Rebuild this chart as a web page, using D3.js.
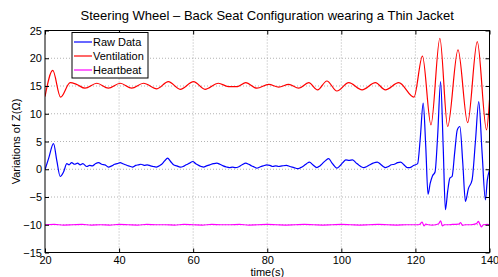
<!DOCTYPE html>
<html><head><meta charset="utf-8">
<script src="https://cdn.jsdelivr.net/npm/d3@7"></script>
<style>body{margin:0;background:#fff}svg{display:block;font-family:"Liberation Sans",Arial,sans-serif}</style>
</head><body><svg id="c" width="498" height="277"></svg>
<script>
const title = "Steering Wheel \u2013 Back Seat Configuration wearing a Thin Jacket";
const xLabel = "time(s)";
const yLabel = "Variations of Z(\u03A9)";
const xTicks = [20, 40, 60, 80, 100, 120, 140];
const yTicks = [-15, -10, -5, 0, 5, 10, 15, 20, 25];
const seriesNames = ["Raw Data", "Ventilation", "Heartbeat"];

const rawT = [20,21,22.3,23.2,24.1,25,25.9,26.5,27.2,28,28.8,29.5,30.2,31.3,32,32.8,33.6,34.5,35.3,36.2,37.1,38,38.8,39.5,40.3,41,41.8,42.6,43.6,44.5,45.2,45.9,46.8,47.6,48.5,49.2,50,50.8,51.5,52.3,53.1,53.9,54.7,55.6,56.5,57.3,58.1,59,59.9,60.7,61.5,62.2,62.8,63.6,64.5,65.5,66.4,67.2,68.1,69,69.8,70.6,71.4,72.2,73.2,74.2,75,75.8,76.5,77.2,78,78.9,79.9,80.7,81.5,82.3,83.1,84,85.2,86.1,87.2,88.2,89,89.8,90.6,91.4,92.3,93.4,94.2,95,95.8,96.6,97.4,98.1,98.8,99.6,100.4,101.2,102.1,103,103.9,104.8,105.5,106.1,106.9,107.7,108.6,109.7,110.6,111.3,111.9,112.7,113.5,114.3,115.2,116,116.9,117.8,118.5,119.3,120,120.6,121.3,122.1,122.8,123.4,124,124.6,125.3,126,126.8,127.5,128.1,128.7,129.3,129.9,130.6,131.3,132,132.8,133.5,134.3,135.3,136.2,137.1,138,138.9,139.4,140];
const rawV = [-0.1,2.0,4.6,1.5,-1.3,-0.5,1.0,0.8,1.2,0.9,1.1,0.8,1.0,0.5,0.7,0.6,1.0,1.2,0.9,0.8,0.4,0.6,0.9,1.0,1.2,1.0,0.8,0.6,0.4,0.7,0.8,0.9,0.7,0.8,0.6,0.5,0.4,0.6,0.9,1.5,2.0,1.4,0.8,0.6,0.4,0.5,0.8,1.1,1.4,1.0,0.7,0.5,0.4,0.6,0.8,1.0,1.1,0.9,0.6,0.4,0.3,0.4,0.3,0.4,0.8,1.1,0.9,0.6,0.4,0.2,0.4,0.6,0.8,0.7,0.5,0.6,0.5,0.6,0.7,0.5,0.3,0.1,0.3,0.6,1.0,1.3,0.8,0.3,0.6,1.1,1.6,1.9,1.2,0.6,0.2,0.6,1.2,1.7,1.6,1.7,1.2,0.7,0.4,0.3,0.5,0.8,1.1,1.3,0.9,0.5,0.3,0.5,0.8,0.9,1.2,1.3,0.8,0.3,0.3,0.6,0.8,1.0,5.5,11.9,4.0,-4.5,-2.5,-1.2,-0.5,6.0,15.8,4.0,-7.3,-4.0,-1.6,-1.3,3.0,7.1,7.7,1.0,-5.8,-3.5,-1.9,5.0,12.2,3.0,-5.5,-2.0,-0.1];

const ventT = [20,22.1,24.2,26.8,28.5,30.8,34,37.1,40.3,43.4,46.6,50.2,53.3,56.5,60.1,63.2,66.8,69.5,72,74.2,77.2,80.4,83.1,85.8,88.5,91.2,93.6,96.1,98.8,102,105.6,109.2,111.9,115.5,119.6,121.9,124.2,126.6,128.7,131.5,134.1,136.7,139.2,140];
const ventV = [13.1,17.8,13.0,15.6,15.3,14.6,15.5,14.6,15.5,14.6,15.5,14.5,15.8,14.4,15.8,14.4,15.5,14.9,14.9,15.6,14.6,15.3,14.8,15.3,14.6,15.6,14.3,15.9,14.1,15.6,14.3,15.6,14.3,15.6,13.0,20.4,8.0,23.6,7.7,21.5,8.4,23.0,7.1,12.5];

const heartT = [20,22.5,25,27.5,30,32.5,35,37.5,40,42.5,45,47.5,50,52.5,55,57.5,60,62.5,65,67.5,70,72.5,75,77.5,80,82.5,85,87.5,90,92.5,95,97.5,100,102.5,105,107.5,110,112.5,115,117.5,120,120.5,121.2,121.8,122.3,122.8,123.5,124.5,125.5,126.3,126.8,127.3,127.8,129,130,131.7,132.2,132.7,133.5,135,136.5,137,137.4,137.8,138.3,139.5,140];
const heartV = [-10,-9.95,-10.05,-10,-9.95,-10.05,-10,-10.05,-9.95,-10,-10.05,-9.95,-10,-10,-10.05,-9.95,-10,-10.05,-9.95,-10,-10,-9.95,-10.05,-10,-9.95,-10,-10.05,-10,-9.95,-10,-10.05,-10,-9.95,-10,-10.05,-10,-9.95,-10,-10.05,-10,-10,-10,-9.9,-9.5,-10.2,-9.9,-10,-10.05,-10,-9.8,-9.3,-10.2,-10,-10,-9.95,-9.9,-9.6,-10.1,-10,-10,-9.8,-9.4,-9.9,-10.4,-10,-9.95,-10];

const colors = ["#0000ff", "#ff0000", "#ff00ff"];

const svg = d3.select("#c");
const L = 45, R = 489.5, T = 30.5, B = 252.5;
const x = d3.scaleLinear().domain([20, 140]).range([L, R]);
const y = d3.scaleLinear().domain([-15, 25]).range([B, T]);

// grid
const g = svg.append("g");
g.selectAll(".gx").data(xTicks.slice(1, -1)).join("line")
  .attr("x1", d => x(d)).attr("x2", d => x(d)).attr("y1", T).attr("y2", B)
  .attr("stroke", "#a0a0a0").attr("stroke-width", 0.8).attr("stroke-dasharray", "1,2");
g.selectAll(".gy").data(yTicks.slice(1, -1)).join("line")
  .attr("y1", d => y(d)).attr("y2", d => y(d)).attr("x1", L).attr("x2", R)
  .attr("stroke", "#a0a0a0").attr("stroke-width", 0.8).attr("stroke-dasharray", "1,2");

// lines
svg.append("clipPath").attr("id", "clp").append("rect")
  .attr("x", L).attr("y", T).attr("width", R - L).attr("height", B - T);
const line = d3.line().x(d => x(d[0])).y(d => y(d[1])).curve(d3.curveMonotoneX);
const series = [d3.zip(rawT, rawV), d3.zip(ventT, ventV), d3.zip(heartT, heartV)];
svg.append("g").attr("clip-path", "url(#clp)").selectAll("path").data(series).join("path")
  .attr("d", line).attr("fill", "none")
  .attr("stroke", (d, i) => colors[i]).attr("stroke-width", 1.2);

// axes (box + inward ticks)
const ax = svg.append("g");
ax.append("rect").attr("x", L).attr("y", T).attr("width", R - L).attr("height", B - T)
  .attr("fill", "none").attr("stroke", "#000").attr("stroke-width", 1);
const xb = d3.axisBottom(x).tickValues(xTicks).tickSizeInner(-4).tickSizeOuter(0).tickPadding(4).tickFormat(d3.format("d"));
const xt = d3.axisTop(x).tickValues(xTicks).tickSizeInner(-4).tickSizeOuter(0).tickFormat("");
const yl = d3.axisLeft(y).tickValues(yTicks).tickSizeInner(-4).tickSizeOuter(0).tickPadding(3)
  .tickFormat(d => d < 0 ? "\u2212" + Math.abs(d) : String(d));
const yr = d3.axisRight(y).tickValues(yTicks).tickSizeInner(-4).tickSizeOuter(0).tickFormat("");
[[xb, `translate(0,${B})`], [xt, `translate(0,${T})`], [yl, `translate(${L},0)`], [yr, `translate(${R},0)`]].forEach(([a, tr]) => {
  const gg = ax.append("g").attr("transform", tr).call(a);
  gg.select(".domain").remove();
  gg.selectAll("text").attr("font-size", 11).attr("fill", "#000").attr("font-family", "Liberation Sans, Arial, sans-serif");
  gg.selectAll("line").attr("stroke", "#000");
});

// titles
svg.append("text").attr("x", (L + R) / 2).attr("y", 20).attr("text-anchor", "middle")
  .attr("font-size", 13).text(title);
svg.append("text").attr("x", (L + R) / 2).attr("y", 275.5).attr("text-anchor", "middle")
  .attr("font-size", 11).text(xLabel);
svg.append("text").attr("transform", `translate(20,${(T + B) / 2}) rotate(-90)`).attr("text-anchor", "middle")
  .attr("font-size", 11).text(yLabel);

// legend
const lg = svg.append("g");
lg.append("rect").attr("x", 72).attr("y", 32.5).attr("width", 76).attr("height", 45.5)
  .attr("fill", "#fff").attr("stroke", "#000").attr("stroke-width", 1);
seriesNames.forEach((n, i) => {
  const yy = 42 + i * 14;
  lg.append("line").attr("x1", 74).attr("x2", 92).attr("y1", yy).attr("y2", yy)
    .attr("stroke", colors[i]).attr("stroke-width", 1.2);
  lg.append("text").attr("x", 93).attr("y", yy + 4).attr("font-size", 11).text(n);
});
</script></body></html>
